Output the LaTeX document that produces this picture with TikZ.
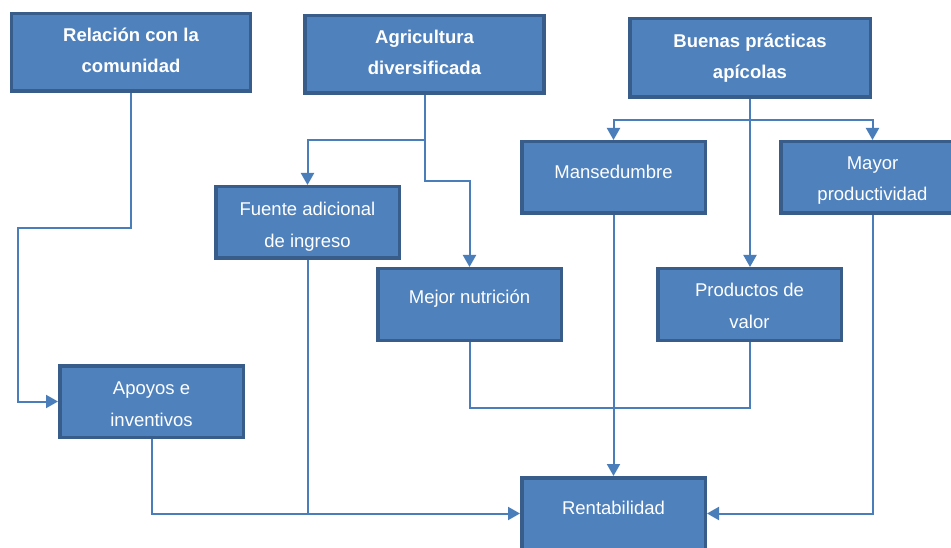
\documentclass[tikz,border=0pt]{standalone}
\usepackage{fontspec}
\setmainfont{Liberation Sans}
\usetikzlibrary{arrows.meta}
\definecolor{boxfill}{HTML}{4F81BD}
\definecolor{boxline}{HTML}{385D8A}
\definecolor{connc}{HTML}{4A7EBB}
\tikzset{
  box/.style={draw=boxline, fill=boxfill, line width=3.5pt, rectangle,
    inner sep=0pt, minimum width=183.5pt, minimum height=71.5pt},
  bigbox/.style={box, minimum width=239pt, minimum height=77.5pt},
  lbl/.style={text=white, align=center, inner sep=0pt,
    font=\fontsize{18.5}{31.5}\selectfont},
  blbl/.style={lbl, font=\fontsize{18.5}{31.5}\selectfont\bfseries},
  conn/.style={draw=connc, line width=2pt},
  arr/.style={conn, -{Triangle[width=13pt,length=12pt]}}
}
\begin{document}
\begin{tikzpicture}[x=1pt,y=-1pt]
\useasboundingbox (0,0) rectangle (951,548);
\clip (0,0) rectangle (951,548);
\fill[white] (0,0) rectangle (951,548);
% boxes
\node[bigbox] (rel) at (131,52.5) {};
\node[bigbox] (agr) at (424.5,54.5) {};
\node[bigbox, minimum width=240.5pt, minimum height=78.5pt] (bue) at (750,58) {};
\node[box] (fue) at (307.5,222.5) {};
\node[box] (man) at (613.5,177.5) {};
\node[box] (may) at (872.5,177.5) {};
\node[box] (mej) at (469.5,304.5) {};
\node[box] (pro) at (749.5,304.5) {};
\node[box] (apo) at (151.5,401.5) {};
\node[box] (ren) at (613.5,513.5) {};
% labels
\node[blbl] (relt) at ([yshift=2pt]rel.center) {Relación con la\\comunidad};
\node[blbl] (agrt) at ([yshift=2pt]agr.center) {Agricultura\\diversificada};
\node[blbl] (buet) at ([yshift=0pt]bue.center) {Buenas prácticas\\apícolas};
\node[lbl] (fuet) at ([yshift=-4pt]fue.center) {Fuente adicional\\de ingreso};
\node[lbl] (mant) at ([yshift=5.5pt]man.center) {Mansedumbre};
\node[lbl] (mayt) at ([yshift=-3pt]may.center) {Mayor\\productividad};
\node[lbl] (mejt) at ([yshift=5.5pt]mej.center) {Mejor nutrición};
\node[lbl] (prot) at ([yshift=-1.5pt]pro.center) {Productos de\\valor};
\node[lbl] (apot) at ([yshift=-2.5pt]apo.center) {Apoyos e\\inventivos};
\node[lbl] (rent) at ([yshift=5.5pt]ren.center) {Rentabilidad};
% helper coordinates
\coordinate (r1) at (18,228);
\coordinate (a1) at (424.5,140);
\coordinate (a2) at (424.5,181);
\coordinate (b1) at (750,120);
\coordinate (m1) at (469.5,408);
% connectors
\draw[arr] (rel.south) |- (r1) |- (apo.west);
\draw[arr] (agr.south) -- (a1) -| (fue.north);
\draw[arr] (a1) -- (a2) -| (mej.north);
\draw[arr] (bue.south) -- (b1) -| (man.north);
\draw[arr] (b1) -| (may.north);
\draw[arr] (b1) -- (b1 |- pro.north);
\draw[conn] (apo.south) |- (fue.south |- ren.west);
\draw[arr] (fue.south) |- (ren.west);
\draw[arr] (man.south) -- (ren.north);
\draw[conn] (mej.south) -- (m1) -| (pro.south);
\draw[arr] (may.south) |- (ren.east);
\end{tikzpicture}
\end{document}
